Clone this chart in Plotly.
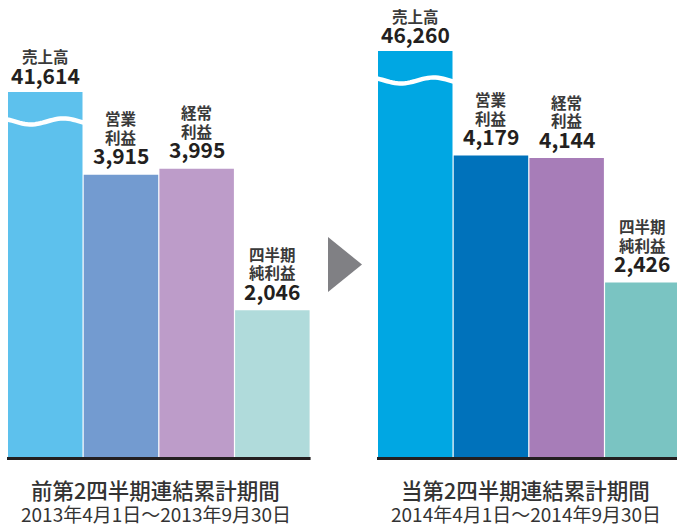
import math
import plotly.graph_objects as go

# ---------------- data ----------------
CATEGORY_LINES = [["売上高"], ["営業", "利益"], ["経常", "利益"], ["四半期", "純利益"]]
PERIOD_TITLES = ["前第2四半期連結累計期間", "当第2四半期連結累計期間"]
PERIOD_DATES = ["2013年4月1日～2013年9月30日", "2014年4月1日～2014年9月30日"]
PREV_VALUES = [41614, 3915, 3995, 2046]
CURR_VALUES = [46260, 4179, 4144, 2426]
SALES_BREAK_SCALE = 0.1215  # broken-axis compression for the sales bar

# ---------------- style / layout ----------------
W, H = 677, 528
PX_PER_UNIT = 0.0725
BASE_PX = 458.5
Y_TOP = BASE_PX / PX_PER_UNIT
Y_BOT = -(H - BASE_PX) / PX_PER_UNIT

PREV_COLORS = ["#5dc1ed", "#739bd0", "#bd9cc9", "#b0dbdb"]
CURR_COLORS = ["#00a7e3", "#0072bb", "#a77db8", "#7ac4c2"]
GROUP_LEFT = [8, 378]
PITCH = 75.7
BAR_W = 74.5
FONT = "Noto Sans CJK JP"
TXT = "#333333"

groups = [PREV_VALUES, CURR_VALUES]
colors = [PREV_COLORS, CURR_COLORS]

fig = go.Figure()
annotations = []
shapes = []

for g, vals in enumerate(groups):
    xs = [GROUP_LEFT[g] + BAR_W / 2 + i * PITCH for i in range(len(vals))]
    shown = [v * SALES_BREAK_SCALE if i == 0 else v for i, v in enumerate(vals)]
    fig.add_trace(go.Bar(
        x=xs, y=shown, width=BAR_W,
        marker=dict(color=colors[g], line=dict(width=0)),
        hoverinfo="skip", showlegend=False,
    ))
    for i, (x, y, v) in enumerate(zip(xs, shown, vals)):
        vshift = 17 if i == 0 else 19.5
        annotations.append(dict(
            x=x, y=y, xref="x", yref="y", text=f"<b>{v:,}</b>", showarrow=False,
            yanchor="middle", xanchor="center", yshift=vshift, borderpad=0,
            font=dict(family=FONT, size=21, color="#231f20"),
        ))
        lines = CATEGORY_LINES[i]
        for j, line in enumerate(reversed(lines)):
            annotations.append(dict(
                x=x, y=y, xref="x", yref="y", text=line, showarrow=False,
                yanchor="middle", xanchor="center", borderpad=0,
                yshift=vshift + 18.5 + 18.5 * j,
                font=dict(family=FONT, size=15.5, color="#3a3a3a", weight=600),
            ))
    # wave across the broken sales bar
    x0 = GROUP_LEFT[g] - 1
    x1 = GROUP_LEFT[g] + BAR_W + 1
    top_px = BASE_PX - shown[0] * PX_PER_UNIT
    wc = top_px + 29.5
    pts = []
    n = 30
    for k in range(n + 1):
        t = k / n
        xp = x0 + (x1 - x0) * t
        yp = wc + 3 * math.sin(2 * math.pi * (t - 0.1) / 0.85)
        yd = (BASE_PX - yp) / PX_PER_UNIT
        pts.append(f"{xp:.2f},{yd:.2f}")
    shapes.append(dict(type="path", xref="x", yref="y",
                       path="M" + " L".join(pts),
                       line=dict(color="white", width=4.5)))
    # baseline
    gx0 = GROUP_LEFT[g] - 1
    gx1 = GROUP_LEFT[g] + 3 * PITCH + BAR_W + 1
    shapes.append(dict(type="line", xref="x", yref="y", x0=gx0, x1=gx1, y0=0, y1=0,
                       line=dict(color="#231f20", width=3)))
    # period labels
    cx = (GROUP_LEFT[g] + GROUP_LEFT[g] + 3 * PITCH + BAR_W) / 2 - 3
    annotations.append(dict(
        x=cx, y=1 - 489 / H, xref="x", yref="paper", text=PERIOD_TITLES[g],
        showarrow=False, xanchor="center", yanchor="middle",
        font=dict(family=FONT, size=21.5, color=TXT, weight=500),
    ))
    annotations.append(dict(
        x=cx, y=0, xref="x", yref="paper", text=PERIOD_DATES[g],
        showarrow=False, xanchor="center", yanchor="bottom", borderpad=0,
        font=dict(family=FONT, size=19, color=TXT),
    ))

# arrow between periods
ty0, ty1, tym = 237, 292, 264.5
shapes.append(dict(type="path", xref="x", yref="paper",
                   path=f"M328,{1-ty0/H} L328,{1-ty1/H} L362,{1-tym/H} Z",
                   fillcolor="#808084", line=dict(width=0)))

fig.update_layout(
    width=W, height=H,
    margin=dict(l=0, r=0, t=0, b=0),
    paper_bgcolor="white", plot_bgcolor="white",
    barmode="overlay",
    xaxis=dict(range=[0, W], visible=False, fixedrange=True),
    yaxis=dict(range=[Y_BOT, Y_TOP], visible=False, fixedrange=True),
    annotations=annotations, shapes=shapes,
)

fig.write_html("out.html")
